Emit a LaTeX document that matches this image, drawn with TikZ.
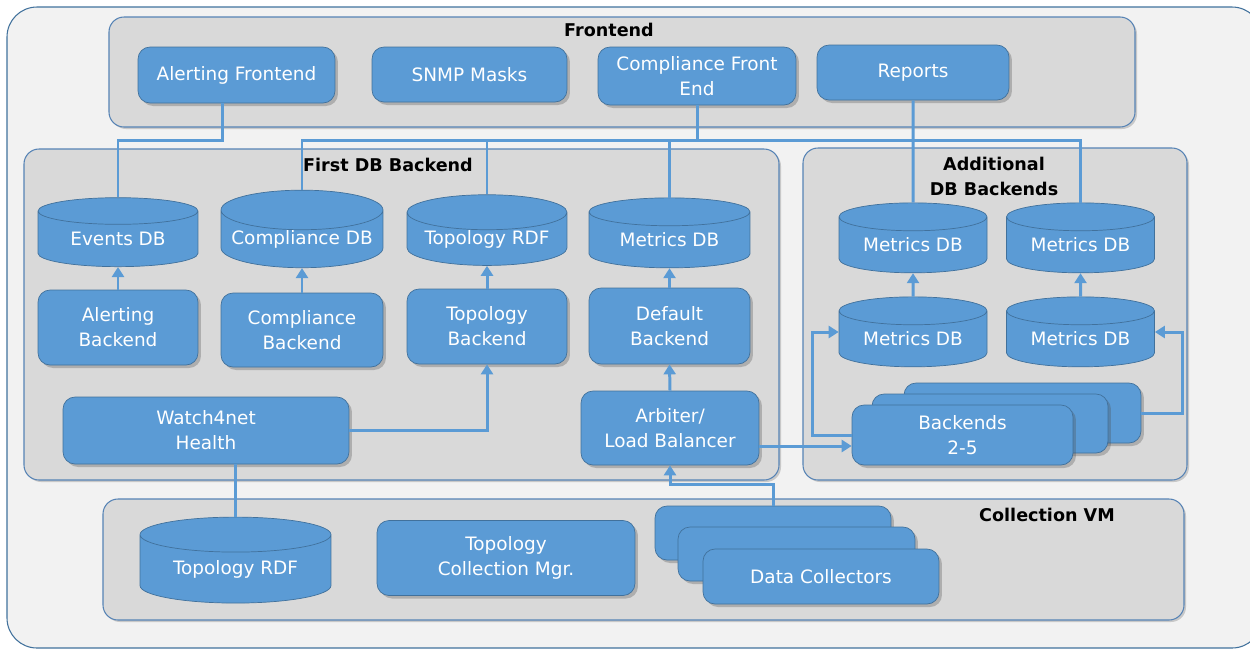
\documentclass[tikz,border=0pt]{standalone}
\usepackage{fontspec}
\setmainfont{DejaVu Sans}
\usetikzlibrary{shapes.geometric,arrows.meta,shadows}

\definecolor{boxblue}{HTML}{5B9BD5}
\definecolor{boxedge}{HTML}{41719C}
\definecolor{framegray}{HTML}{D9D9D9}
\definecolor{pagegray}{HTML}{F2F2F2}
\definecolor{frameblue}{HTML}{5683B5}

\tikzset{
  block/.style={rectangle, rounded corners=0.24cm, draw=boxedge, fill=boxblue,
    text=white, align=center, inner sep=0pt, font=\fontsize{10.5}{14.2}\selectfont,
    drop shadow={shadow xshift=0.06cm, shadow yshift=-0.06cm, opacity=0.3, fill=black!70}},
  dbcyl/.style={cylinder, shape border rotate=90, aspect=0.28, draw=boxedge, fill=boxblue,
    text=white, align=center, inner sep=0pt, font=\fontsize{10.5}{14.2}\selectfont},
  group/.style={draw=frameblue, fill=framegray, rounded corners=0.3cm, line width=0.6pt,
    drop shadow={shadow xshift=0.04cm, shadow yshift=-0.04cm, opacity=0.25, fill=black!70}},
  grouptitle/.style={font=\bfseries\fontsize{10}{14.2}\selectfont, align=center},
  link/.style={draw=boxblue, line width=1.7pt},
  arr/.style={link, -{Triangle[length=0.2cm, width=0.24cm]}},
}

\begin{document}
\begin{tikzpicture}[x=0.02cm, y=-0.02cm]
    \useasboundingbox (0,0) rectangle (1250,650);

    % Page and groups
    \draw[draw=boxedge, fill=pagegray, rounded corners=0.6cm, line width=0.6pt] (7,7) rectangle (1262,648);
    \draw[group] (109,17) rectangle (1135,127);
    \draw[group] (24,149) rectangle (779,480);
    \draw[group] (803,148) rectangle (1187,480);
    \draw[group] (103,499) rectangle (1184,620);
    \node[grouptitle] (fronttitle) at (609,30) {Frontend};
    \node[grouptitle] (firsttitle) at (388,165) {First DB Backend};
    \node[grouptitle] (addtitle) at (994,176) {Additional\\DB Backends};
    \node[grouptitle] (colltitle) at (1047,515) {Collection VM};

    % Frontend
    \node[block, minimum width=3.94cm, minimum height=1.12cm] (alertfe) at (236.5,75) {Alerting Frontend};
    \node[block, minimum width=3.9cm, minimum height=1.1cm] (snmp) at (469.5,74.5) {SNMP Masks};
    \node[block, minimum width=3.96cm, minimum height=1.16cm] (compfe) at (697,76) {Compliance Front\\End};
    \node[block, minimum width=3.84cm, minimum height=1.1cm] (reports) at (913,72.5) {Reports};

    % First DB backend
    \node[dbcyl, minimum width=3.2cm, minimum height=1.38cm] (eventsdb) at (118,239) {Events DB};
    \node[dbcyl, minimum width=3.24cm, minimum height=1.38cm] (compdb) at (302,239) {Compliance DB};
    \node[dbcyl, minimum width=3.2cm, minimum height=1.38cm] (toprdf) at (487,239) {Topology RDF};
    \node[dbcyl, minimum width=3.22cm, minimum height=1.4cm] (metdb) at (669.5,240) {Metrics DB};
    \node[block, minimum width=3.2cm, minimum height=1.5cm] (alertbe) at (118,327.5) {Alerting\\Backend};
    \node[block, minimum width=3.24cm, minimum height=1.48cm] (compbe) at (302,330) {Compliance\\Backend};
    \node[block, minimum width=3.2cm, minimum height=1.5cm] (topobe) at (487,326.5) {Topology\\Backend};
    \node[block, minimum width=3.22cm, minimum height=1.52cm] (defbe) at (669.5,326) {Default\\Backend};
    \node[block, minimum width=5.72cm, minimum height=1.34cm] (health) at (206,430.5) {Watch4net\\Health};
    \node[block, minimum width=3.56cm, minimum height=1.48cm] (arbiter) at (670,428) {Arbiter/\\Load Balancer};

    % Additional DB backends
    \node[dbcyl, minimum width=2.96cm, minimum height=1.4cm] (mdbla) at (913,245) {Metrics DB};
    \node[dbcyl, minimum width=2.96cm, minimum height=1.4cm] (mdbra) at (1080.5,245) {Metrics DB};
    \node[dbcyl, minimum width=2.96cm, minimum height=1.4cm] (mdblb) at (913,339) {Metrics DB};
    \node[dbcyl, minimum width=2.96cm, minimum height=1.4cm] (mdbrb) at (1080.5,339) {Metrics DB};
    \node[block, minimum width=4.74cm, minimum height=1.2cm] (backc) at (1022.5,413) {};
    \node[block, minimum width=4.72cm, minimum height=1.18cm] (backb) at (990,423.5) {};
    \node[block, minimum width=4.42cm, minimum height=1.2cm] (backa) at (962.5,435) {Backends\\2-5};

    % Collection VM
    \node[dbcyl, minimum width=3.82cm, minimum height=1.72cm] (collrdf) at (235.5,569) {Topology RDF};
    \node[block, minimum width=5.16cm, minimum height=1.5cm] (collmgr) at (506,558) {Topology\\Collection Mgr.};
    \node[block, minimum width=4.72cm, minimum height=1.08cm] (collc) at (773,533) {};
    \node[block, minimum width=4.74cm, minimum height=1.08cm] (collb) at (796.5,554) {};
    \node[block, minimum width=4.72cm, minimum height=1.1cm] (colla) at (821,576.5) {Data Collectors};

    % Links from the frontend
    \coordinate (bus) at (0,140);
    \draw[link] ([xshift=-0.29cm]alertfe.south) |- (bus -| eventsdb.north) -- (eventsdb.north);
    \draw[link] (compfe.south) -- (compfe.south |- bus);
    \draw[link] (compdb.north) |- (mdbra.north |- bus) -- (mdbra.north);
    \draw[link] (toprdf.north) -- (toprdf.north |- bus);
    \draw[link] (metdb.north) -- (metdb.north |- bus);
    \draw[link] (reports.south) -- (mdbla.north);

    % Backends into databases
    \draw[arr] (alertbe.north) -- (eventsdb.south);
    \draw[arr] (compbe.north) -- (compdb.south);
    \draw[arr] (topobe.north) -- (toprdf.south);
    \draw[arr] (defbe.north) -- (metdb.south);
    \draw[arr] (arbiter.north) -- (defbe.south);
    \draw[arr] (health.east) -| (topobe.south);
    \draw[link] (health.south -| collrdf.north) -- (collrdf.north);
    \draw[arr] (collc.north) |- ++(0,-21) -| (arbiter.south);
    \draw[arr] ([yshift=-0.36cm]arbiter.east) -- ([yshift=-0.36cm]arbiter.east -| backa.west);
    \draw[arr] (backa.west) -- ++(-39,0) |- ([yshift=0.14cm]mdblb.west);
    \draw[arr] (backc.east) -- ++(41,0) |- ([yshift=0.14cm]mdbrb.east);
    \draw[arr] (mdblb.north) -- (mdbla.south);
    \draw[arr] (mdbrb.north) -- (mdbra.south);
\end{tikzpicture}
\end{document}
